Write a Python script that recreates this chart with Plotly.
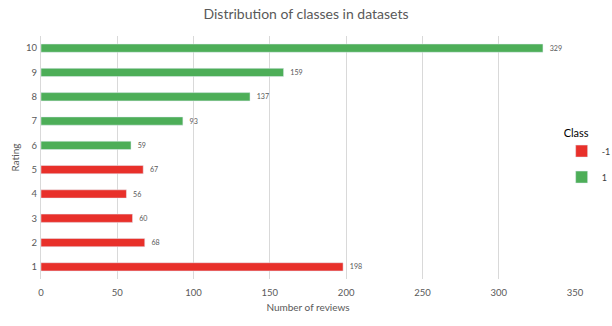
import plotly.graph_objects as go

ratings_neg = ["1", "2", "3", "4", "5"]
counts_neg = [198, 68, 60, 56, 67]
ratings_pos = ["6", "7", "8", "9", "10"]
counts_pos = [59, 93, 137, 159, 329]
all_ratings = ["1", "2", "3", "4", "5", "6", "7", "8", "9", "10"]

FONT = "Lato, Liberation Sans, sans-serif"

fig = go.Figure()
fig.add_trace(go.Bar(
    y=ratings_neg, x=counts_neg, orientation="h", name="-1", legendgroup="neg",
    marker=dict(color="#E8302A"),
    texttemplate="  %{x}", textposition="outside", cliponaxis=False,
    textfont=dict(size=9.5, color="#595959"),
))
fig.add_trace(go.Bar(
    y=ratings_pos, x=counts_pos, orientation="h", name="1", legendgroup="pos",
    marker=dict(color="#4DAE58"),
    texttemplate="  %{x}", textposition="outside", cliponaxis=False,
    textfont=dict(size=9.5, color="#595959"),
))

fig.update_layout(
    width=612, height=326,
    margin=dict(l=41, r=37, t=36, b=47, autoexpand=False),
    paper_bgcolor="white", plot_bgcolor="white",
    font=dict(family=FONT, color="#595959", size=9),
    title=dict(text="Distribution of classes in datasets", x=0.5, xanchor="center",
               y=1 - 14 / 326, yanchor="middle",
               font=dict(size=14, color="#595959", family=FONT)),
    barmode="relative",
    bargap=0.66,
    showlegend=True,
    legend=dict(
        title=dict(text="Class", font=dict(size=11, color="#000000")),
        x=0.975, xanchor="left", y=0.645, yanchor="top",
        font=dict(size=9, color="#404040"),
        tracegroupgap=7,
        bgcolor="rgba(0,0,0,0)",
    ),
    xaxis=dict(
        range=[0, 350], dtick=50, showgrid=True, gridcolor="#D9D9D9", gridwidth=1,
        zeroline=False, showline=False, ticks="",
        ticklabelstandoff=6,
        tickfont=dict(size=9.5, color="#595959"),
        title=dict(text="Number of reviews", font=dict(size=10, color="#595959"), standoff=7),
    ),
    yaxis=dict(
        type="category", categoryorder="array", categoryarray=all_ratings,
        showline=True, linecolor="#D9D9D9", linewidth=1, showgrid=False, ticks="",
        ticklabelstandoff=1,
        tickfont=dict(size=9.5, color="#595959"),
        title=dict(text="Rating", font=dict(size=10, color="#595959"), standoff=4),
    ),
)

fig.write_html("out.html")
